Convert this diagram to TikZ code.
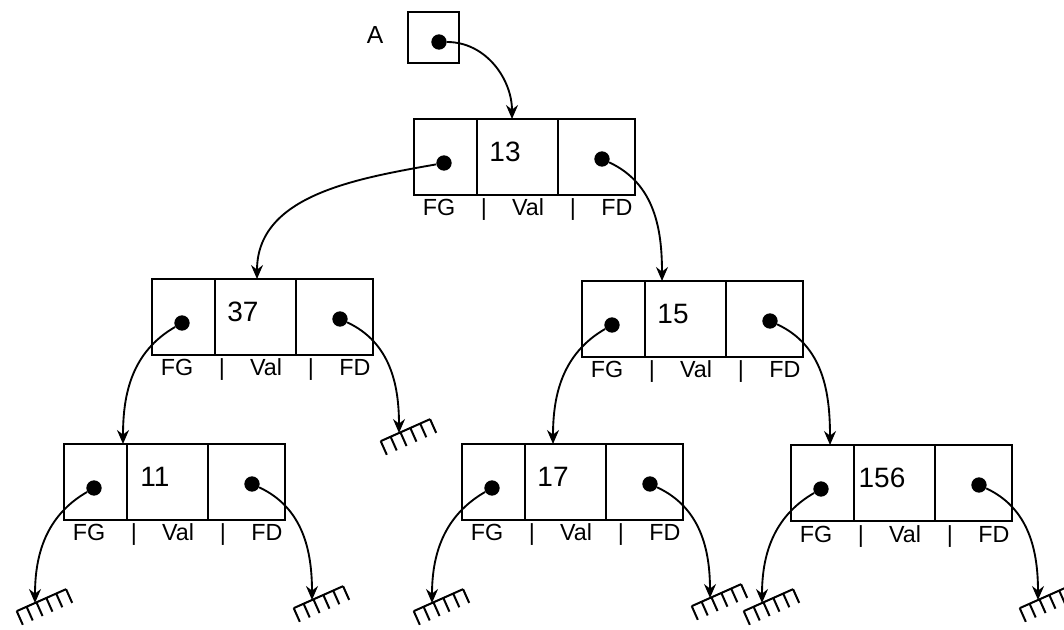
\documentclass[tikz,border=0pt]{standalone}
\usepackage{fontspec}
\setmainfont{Liberation Sans}
\usetikzlibrary{arrows.meta}
\tikzset{
 ln/.style={line width=1.5pt},
 box/.style={draw, line width=1.5pt, minimum width=165.75pt, minimum height=57pt, inner sep=0pt},
 dot/.style={circle, fill=black, inner sep=0pt, minimum size=11.5pt},
 valtxt/.style={font=\fontsize{21}{25}\selectfont, inner sep=0pt},
 lbl/.style={font=\fontsize{17.5}{21}\selectfont, inner sep=0pt, anchor=base},
 link/.style={line width=1.4pt, -{Stealth[length=10.5pt,width=9pt,inset=3.5pt]}},
 gndsym/.pic={\draw[line width=1.5pt, rotate=24] (-20,0) -- (34,0)
    foreach \i in {0,...,5}{ (-20+10.8*\i,0) -- ++(0,-15) };}
}
\newcommand\TNode[5]{%
 \begin{scope}[shift={(#2,-#3)}]
  \node[box] (#1-box) at (110.5,-38) {};
  \draw[ln] (63,0) -- (63,-76) (144,0) -- (144,-76);
  \node[dot] (#1-fg) at (30,-44) {};
  \node[dot] (#1-fd) at (188,-40) {};
  \node[valtxt] (#1-val) at (91,-33) {#4};
  \node[lbl] (#1-l1) at (25,-97) {FG};
  \node[lbl] (#1-l2) at (70,-97) {|};
  \node[lbl] (#1-l3) at (114,-97) {Val};
  \node[lbl] (#1-l4) at (159,-97) {|};
  \node[lbl] (#1-l5) at (203,-97) {FD};
  \coordinate (#1-in) at (#5,0);
 \end{scope}}
\begin{document}
\begin{tikzpicture}[x=0.75pt,y=0.75pt]
\useasboundingbox (0,0) rectangle (1064,-630);
% pointer A
\node[font=\fontsize{18.5}{22}\selectfont, inner sep=0pt] (alabel) at (375,-35) {A};
\node[draw, line width=1.5pt, minimum size=38.25pt, inner sep=0pt] (abox) at (433.5,-38) {};
\node[dot] (adot) at (439,-42) {};
% tree nodes
\TNode{n13}{414}{119}{13}{98}
\TNode{n37}{152}{279}{37}{105}
\TNode{n15}{582}{281}{15}{80}
\TNode{n11}{64}{444}{11}{59}
\TNode{n17}{462}{444}{17}{91}
\TNode{n156}{791}{445}{156}{39}
% grounds
\coordinate (g37d) at (399,-433);
\coordinate (g11g) at (35,-603);
\coordinate (g11d) at (312,-600);
\coordinate (g17g) at (432,-603);
\coordinate (g17d) at (710,-598);
\coordinate (g156g) at (762,-603);
\coordinate (g156d) at (1038,-600);
\foreach \g in {g37d,g11g,g11d,g17g,g17d,g156g,g156d}{\pic at (\g) {gndsym};}
% links
\draw[link] (adot) to[out=0,in=90] (n13-in);
\draw[link] (n13-fg) to[out=190,in=90] (n37-in);
\draw[link] (n13-fd) to[out=-25,in=90] (n15-in);
\draw[link] (n37-fg) to[out=210,in=90] (n11-in);
\draw[link] (n37-fd) to[out=-25,in=90] (g37d);
\draw[link] (n15-fg) to[out=210,in=90] (n17-in);
\draw[link] (n15-fd) to[out=-25,in=90] (n156-in);
\draw[link] (n11-fg) to[out=210,in=90] (g11g);
\draw[link] (n11-fd) to[out=-25,in=90] (g11d);
\draw[link] (n17-fg) to[out=210,in=90] (g17g);
\draw[link] (n17-fd) to[out=-25,in=90] (g17d);
\draw[link] (n156-fg) to[out=210,in=90] (g156g);
\draw[link] (n156-fd) to[out=-25,in=90] (g156d);
\end{tikzpicture}
\end{document}
